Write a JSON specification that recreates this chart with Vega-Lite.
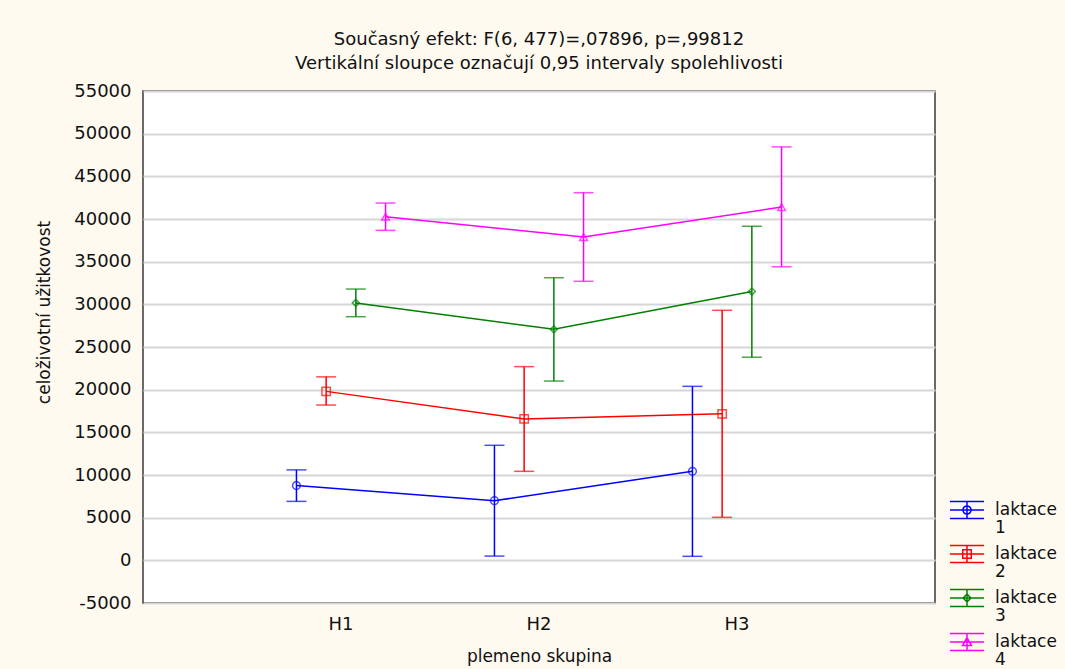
{
  "$schema": "https://vega.github.io/schema/vega-lite/v6.json",
  "width": 792,
  "height": 512,
  "autosize": "none",
  "padding": {"left": 143, "top": 91, "right": 130, "bottom": 66},
  "background": "#fffaf0",
  "config": {
    "view": {"fill": "white", "stroke": "#3a3a3a", "strokeWidth": 1.5},
    "font": "DejaVu Sans",
    "axis": {
      "labelFont": "DejaVu Sans", "labelFontSize": 18, "labelColor": "#111",
      "titleFont": "DejaVu Sans", "titleFontSize": 17, "titleFontWeight": "normal", "titleColor": "#111",
      "gridColor": "#d6d6d6", "gridWidth": 1.8, "domain": false, "ticks": false
    }
  },
  "title": {
    "text": ["Současný efekt: F(6, 477)=,07896, p=,99812", "Vertikální sloupce označují 0,95 intervaly spolehlivosti"],
    "font": "DejaVu Sans", "fontSize": 18, "fontWeight": "normal", "lineHeight": 24, "offset": 9, "color": "#111", "anchor": "middle"
  },
  "data": {
    "values": [
      {"plemeno": "H1", "laktace": "laktace 1", "mean": 8760, "lo": 6910, "hi": 10600},
      {"plemeno": "H2", "laktace": "laktace 1", "mean": 6990, "lo": 500, "hi": 13480},
      {"plemeno": "H3", "laktace": "laktace 1", "mean": 10430, "lo": 470, "hi": 20390},
      {"plemeno": "H1", "laktace": "laktace 2", "mean": 19800, "lo": 18200, "hi": 21500},
      {"plemeno": "H2", "laktace": "laktace 2", "mean": 16570, "lo": 10430, "hi": 22700},
      {"plemeno": "H3", "laktace": "laktace 2", "mean": 17170, "lo": 5040, "hi": 29300},
      {"plemeno": "H1", "laktace": "laktace 3", "mean": 30170, "lo": 28550, "hi": 31790},
      {"plemeno": "H2", "laktace": "laktace 3", "mean": 27070, "lo": 21010, "hi": 33120},
      {"plemeno": "H3", "laktace": "laktace 3", "mean": 31500, "lo": 23800, "hi": 39150},
      {"plemeno": "H1", "laktace": "laktace 4", "mean": 40270, "lo": 38670, "hi": 41870},
      {"plemeno": "H2", "laktace": "laktace 4", "mean": 37880, "lo": 32700, "hi": 43080},
      {"plemeno": "H3", "laktace": "laktace 4", "mean": 41400, "lo": 34400, "hi": 48450}
    ]
  },
  "encoding": {
    "x": {
      "field": "plemeno", "type": "nominal",
      "scale": {"type": "band", "paddingInner": 0.1, "paddingOuter": 0.55},
      "axis": {"title": "plemeno skupina", "labelAngle": 0, "bandPosition": 0.5, "labelPadding": 12, "titlePadding": 15}
    },
    "xOffset": {"field": "laktace", "type": "nominal", "scale": {"paddingInner": 0, "paddingOuter": 1}}
  },
  "layer": [
    {
      "mark": {"type": "line", "strokeWidth": 1.5},
      "encoding": {
        "y": {
          "field": "mean", "type": "quantitative",
          "scale": {"domain": [-5000, 55000], "nice": false, "zero": false},
          "axis": {
            "title": "celoživotní užitkovost",
            "values": [-5000, 0, 5000, 10000, 15000, 20000, 25000, 30000, 35000, 40000, 45000, 50000, 55000],
            "labelExpr": "datum.value + ''", "labelPadding": 12, "titleX": -90, "titleY": 221
          }
        },
        "color": {
          "field": "laktace", "type": "nominal",
          "scale": {"domain": ["laktace 1", "laktace 2", "laktace 3", "laktace 4"], "range": ["#0000ff", "#ff0000", "#008000", "#ff00ff"]},
          "legend": {
            "orient": "none", "legendX": 806, "legendY": 401, "title": null, "padding": 0,
            "symbolType": "M-1,-0.5H1M-1,0H1M-1,0.5H1M0,-0.5V0.5",
            "symbolSize": 1156, "symbolStrokeWidth": 1.5, "symbolFillColor": "transparent",
            "labelFont": "DejaVu Sans", "labelFontSize": 17, "labelColor": "#111", "labelBaseline": "middle",
            "labelOffset": 10, "labelExpr": "split(datum.label, ' ')", "rowPadding": 0, "labelLimit": 300,
            "encode": {
              "labels": {"update": {"lineHeight": {"value": 18}}},
              "symbols": {"update": {
                "fill": {"value": "transparent"},
                "fillOpacity": {"value": 0},
                "shape": {"signal": "datum.value == 'laktace 1' ? 'M-1,-0.5H1M-1,0H1M-1,0.5H1M0,-0.5V0.5M0.24,0A0.24,0.24,0,1,1,-0.24,0A0.24,0.24,0,1,1,0.24,0Z' : datum.value == 'laktace 2' ? 'M-1,-0.5H1M-1,0H1M-1,0.5H1M0,-0.5V0.5M-0.25,-0.25H0.25V0.25H-0.25Z' : datum.value == 'laktace 3' ? 'M-1,-0.5H1M-1,0H1M-1,0.5H1M0,-0.5V0.5M0,-0.23L0.23,0L0,0.23L-0.23,0Z' : 'M-1,-0.5H1M-1,0H1M-1,0.5H1M0,-0.5V0.5M0,-0.26L0.26,0.21L-0.26,0.21Z'"}
              }}
            }
          }
        }
      }
    },
    {
      "mark": {"type": "rule", "strokeWidth": 1.5},
      "encoding": {"y": {"field": "lo", "type": "quantitative"}, "y2": {"field": "hi"}, "color": {"field": "laktace", "type": "nominal", "legend": null}}
    },
    {
      "mark": {"type": "tick", "orient": "horizontal", "size": 20, "thickness": 1.5},
      "encoding": {"y": {"field": "lo", "type": "quantitative"}, "color": {"field": "laktace", "type": "nominal", "legend": null}}
    },
    {
      "mark": {"type": "tick", "orient": "horizontal", "size": 20, "thickness": 1.5},
      "encoding": {"y": {"field": "hi", "type": "quantitative"}, "color": {"field": "laktace", "type": "nominal", "legend": null}}
    },
    {
      "transform": [{"filter": "datum.laktace == 'laktace 1'"}],
      "mark": {"type": "point", "shape": "circle", "filled": false, "size": 60, "strokeWidth": 1.5},
      "encoding": {"y": {"field": "mean", "type": "quantitative"}, "color": {"field": "laktace", "type": "nominal", "legend": null}}
    },
    {
      "transform": [{"filter": "datum.laktace == 'laktace 2'"}],
      "mark": {"type": "point", "shape": "square", "filled": false, "size": 70, "strokeWidth": 1.5},
      "encoding": {"y": {"field": "mean", "type": "quantitative"}, "color": {"field": "laktace", "type": "nominal", "legend": null}}
    },
    {
      "transform": [{"filter": "datum.laktace == 'laktace 3'"}],
      "mark": {"type": "point", "shape": "diamond", "filled": false, "size": 50, "strokeWidth": 1.5},
      "encoding": {"y": {"field": "mean", "type": "quantitative"}, "color": {"field": "laktace", "type": "nominal", "legend": null}}
    },
    {
      "transform": [{"filter": "datum.laktace == 'laktace 4'"}],
      "mark": {"type": "point", "shape": "triangle-up", "filled": false, "size": 60, "strokeWidth": 1.5},
      "encoding": {"y": {"field": "mean", "type": "quantitative"}, "color": {"field": "laktace", "type": "nominal", "legend": null}}
    }
  ]
}
